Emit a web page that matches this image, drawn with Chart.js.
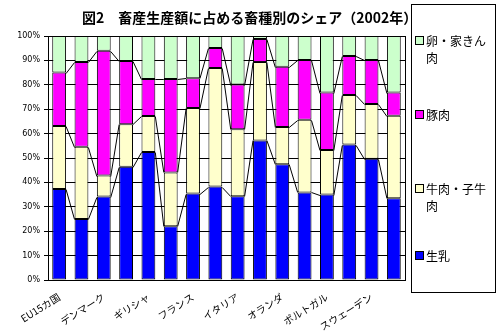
<!DOCTYPE html>
<html>
<head>
<meta charset="utf-8">
<script src="https://cdn.jsdelivr.net/npm/chart.js@4"></script>
<style>
  html, body { margin: 0; padding: 0; background: #fff; }
  #wrap { position: relative; width: 499px; height: 332px; font-family: "Noto Sans CJK JP", sans-serif; }
  #title { position: absolute; left: 82px; top: 7px; font-size: 14px; font-weight: bold; white-space: nowrap; color: #000; line-height: 20px; }
  #legend { position: absolute; left: 411px; top: 4px; width: 85px; height: 289px; border: 1px solid #000; box-sizing: border-box; }
  .item { position: absolute; left: 3px; font-size: 12px; line-height: 17px; color: #000; }
  .sw { display: inline-block; width: 7px; height: 7px; border: 1px solid #000; margin-right: 2px; vertical-align: 1px; }
  .ind { padding-left: 11px; }
  canvas { position: absolute; left: 0; top: 0; }
</style>
</head>
<body>
<div id="wrap">
  <canvas id="c" width="499" height="332"></canvas>
  <div id="title">図2　畜産生産額に占める畜種別のシェア（2002年）</div>
  <div id="legend"></div>
</div>
<script>
const categories = ["EU15カ国","ベルギー","デンマーク","ドイツ","ギリシャ","スペイン","フランス","アイルランド","イタリア","ルクセンブルク","オランダ","オーストリア","ポルトガル","フィンランド","スウェーデン","イギリス"];
const milk    = [37.3, 25.0, 34.2, 46.4, 52.5, 22.0, 35.4, 38.3, 34.3, 57.2, 47.4, 35.9, 35.0, 55.5, 49.7, 33.5];
const beef    = [25.8, 29.6,  8.6, 17.4, 14.7, 22.1, 35.1, 48.6, 27.5, 32.1, 15.3, 29.8, 18.3, 20.3, 22.4, 33.8];
const pork    = [21.9, 34.7, 51.2, 26.0, 15.2, 38.3, 12.2,  8.2, 18.3,  9.5, 24.7, 24.5, 23.5, 16.0, 18.1,  9.5];
const poultry = [15.0, 10.7,  6.0, 10.2, 17.6, 17.6, 17.3,  4.9, 19.9,  1.2, 12.6,  9.8, 23.2,  8.2,  9.8, 23.2];
const yTicks = [0,10,20,30,40,50,60,70,80,90,100];

const seriesNames = ["生乳", "牛肉・子牛肉", "豚肉", "卵・家きん肉"];
const seriesColors = ["#0000FF", "#FFFFCC", "#FF00FF", "#CCFFCC"];
const seriesData = [milk, beef, pork, poultry];

const seriesLines = {
  id: 'seriesLines',
  afterDatasetsDraw(chart) {
    const ctx = chart.ctx;
    ctx.save();
    ctx.strokeStyle = '#000';
    ctx.lineWidth = 1;
    chart.data.datasets.forEach((ds, i) => {
      const meta = chart.getDatasetMeta(i);
      for (let j = 0; j < meta.data.length - 1; j++) {
        const a = meta.data[j], b = meta.data[j + 1];
        ctx.beginPath();
        ctx.moveTo(a.x + a.width / 2, Math.round(a.y) + 0.5);
        ctx.lineTo(b.x - b.width / 2, Math.round(b.y) + 0.5);
        ctx.stroke();
      }
    });
    const ca = chart.chartArea;
    ctx.beginPath();
    ctx.moveTo(Math.round(ca.right) + 0.5, ca.top);
    ctx.lineTo(Math.round(ca.right) + 0.5, ca.bottom);
    ctx.stroke();
    ctx.restore();
  }
};

const chart = new Chart(document.getElementById('c'), {
  type: 'bar',
  data: {
    labels: categories,
    datasets: seriesData.map((d, i) => ({
      label: seriesNames[i],
      data: d,
      backgroundColor: seriesColors[i],
      borderColor: '#000',
      borderWidth: 1,
      borderSkipped: false,
      barPercentage: 0.62,
      categoryPercentage: 1.0
    }))
  },
  plugins: [seriesLines],
  options: {
    responsive: false,
    animation: false,
    layout: { padding: { top: 36, right: 94, left: 0, bottom: 0 } },
    plugins: { legend: { display: false }, title: { display: false }, tooltip: { enabled: false } },
    scales: {
      x: {
        stacked: true,
        grid: { display: false },
        border: { color: '#000' },
        afterFit: s => { s.height = 52; },
        ticks: {
          autoSkip: false,
          maxRotation: 32, minRotation: 32,
          color: '#000',
          font: { family: "'Noto Sans CJK JP', sans-serif", size: 10 },
          callback: (v, i) => (i % 2 === 0 ? categories[i] : '')
        }
      },
      y: {
        stacked: true,
        min: 0, max: 100,
        afterFit: s => { s.width = 48; },
        afterBuildTicks: s => { s.ticks = yTicks.map(v => ({ value: v })); },
        grid: { color: '#000', tickLength: 4, drawTicks: true },
        border: { color: '#000' },
        ticks: {
          color: '#000',
          padding: 4,
          font: { family: "'DejaVu Sans', sans-serif", size: 8 },
          callback: v => v + '%'
        }
      }
    }
  }
});

// Legend built from the chart's datasets (reverse order like the reference)
const legend = document.getElementById('legend');
const legendTops = [27, 101, 175, 242];
const legendLines = { "卵・家きん肉": ["卵・家きん", "肉"], "豚肉": ["豚肉"], "牛肉・子牛肉": ["牛肉・子牛", "肉"], "生乳": ["生乳"] };
chart.data.datasets.slice().reverse().forEach((ds, k) => {
  const div = document.createElement('div');
  div.className = 'item';
  div.style.top = legendTops[k] + 'px';
  const lines = legendLines[ds.label];
  div.innerHTML = '<span class="sw" style="background:' + ds.backgroundColor + '"></span>' + lines[0] +
    (lines[1] ? '<br><span class="ind">' + lines[1] + '</span>' : '');
  legend.appendChild(div);
});
</script>
</body>
</html>
